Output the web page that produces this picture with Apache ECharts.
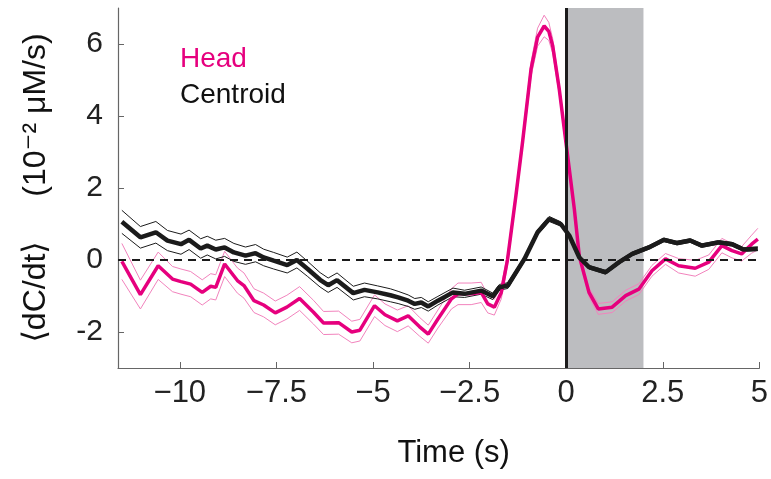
<!DOCTYPE html>
<html>
<head>
<meta charset="utf-8">
<script src="https://cdn.jsdelivr.net/npm/echarts@6/dist/echarts.min.js"></script>
<style>
  html, body { margin: 0; padding: 0; background: #fff; }
  #chart { width: 771px; height: 479px; }
</style>
</head>
<body>
<div id="chart"></div>
<script>
// head signal, time (s) / mean / sem
const headTime = [-11.5, -11.02, -10.56, -10.19, -9.97, -9.72, -9.42, -9.2, -9.07, -8.84, -8.51, -8.34, -8.08, -7.83, -7.53, -7.23, -6.9, -6.54, -6.28, -5.89, -5.55, -5.34, -4.96, -4.69, -4.37, -4.09, -3.8, -3.57, -3.32, -2.97, -2.8, -2.46, -2.2, -2.03, -1.86, -1.68, -1.52, -1.3, -1.13, -0.91, -0.74, -0.57, -0.45, -0.35, -0.18, -0.05, 0.08, 0.21, 0.34, 0.59, 0.83, 1.19, 1.54, 1.88, 2.22, 2.57, 2.91, 3.34, 3.69, 4.03, 4.29, 4.54, 4.8, 4.96];
const headMean = [-0.04, -0.96, -0.16, -0.53, -0.6, -0.67, -0.9, -0.73, -0.76, -0.11, -0.57, -0.71, -1.13, -1.25, -1.47, -1.31, -1.07, -1.45, -1.75, -1.74, -2.0, -1.95, -1.27, -1.52, -1.69, -1.55, -1.85, -2.06, -1.64, -1.08, -0.94, -0.94, -0.9, -1.22, -1.31, -0.9, 0.0, 1.8, 3.27, 5.3, 6.19, 6.5, 6.35, 5.95, 4.75, 3.64, 2.53, 1.42, 0.1, -0.9, -1.36, -1.31, -0.99, -0.81, -0.3, 0.03, -0.16, -0.23, -0.06, 0.4, 0.26, 0.17, 0.44, 0.58];
const headSem = [0.5, 0.4, 0.38, 0.35, 0.35, 0.35, 0.35, 0.35, 0.35, 0.35, 0.35, 0.35, 0.33, 0.33, 0.33, 0.33, 0.33, 0.33, 0.32, 0.32, 0.3, 0.3, 0.3, 0.3, 0.3, 0.28, 0.26, 0.25, 0.25, 0.28, 0.3, 0.3, 0.28, 0.25, 0.22, 0.18, 0.15, 0.12, 0.15, 0.2, 0.25, 0.3, 0.25, 0.2, 0.15, 0.12, 0.12, 0.12, 0.12, 0.12, 0.15, 0.15, 0.15, 0.15, 0.15, 0.15, 0.2, 0.22, 0.2, 0.2, 0.2, 0.2, 0.25, 0.3];

// centroid signal
const centTime = [-11.5, -11.02, -10.62, -10.32, -9.97, -9.76, -9.46, -9.29, -9.07, -8.84, -8.6, -8.3, -8.04, -7.83, -7.57, -7.22, -6.97, -6.69, -6.37, -6.16, -5.93, -5.51, -5.22, -4.88, -4.55, -4.35, -4.09, -3.92, -3.75, -3.57, -3.32, -2.93, -2.63, -2.2, -1.9, -1.73, -1.51, -1.08, -0.74, -0.44, -0.14, 0.08, 0.34, 0.59, 1.02, 1.37, 1.71, 2.14, 2.53, 2.87, 3.21, 3.51, 3.94, 4.29, 4.59, 4.96];
const centMean = [1.06, 0.63, 0.77, 0.54, 0.44, 0.56, 0.32, 0.4, 0.29, 0.35, 0.21, 0.12, 0.19, 0.07, -0.02, -0.14, 0.0, -0.25, -0.55, -0.7, -0.56, -0.92, -0.83, -0.9, -0.98, -1.04, -1.13, -1.22, -1.18, -1.29, -1.13, -0.9, -0.94, -0.85, -1.01, -0.76, -0.71, 0.03, 0.77, 1.14, 1.0, 0.68, 0.07, -0.2, -0.34, -0.06, 0.17, 0.35, 0.56, 0.47, 0.54, 0.4, 0.49, 0.44, 0.29, 0.31];
const centSem = [0.32, 0.3, 0.3, 0.28, 0.28, 0.27, 0.27, 0.26, 0.26, 0.25, 0.25, 0.24, 0.24, 0.23, 0.23, 0.22, 0.22, 0.21, 0.2, 0.2, 0.2, 0.19, 0.19, 0.18, 0.18, 0.17, 0.16, 0.15, 0.14, 0.13, 0.12, 0.12, 0.1, 0.1, 0.09, 0.08, 0.08, 0.07, 0.07, 0.07, 0.06, 0.05, 0.05, 0.05, 0.05, 0.05, 0.05, 0.05, 0.05, 0.05, 0.05, 0.05, 0.05, 0.05, 0.05, 0.05];

const xTicks = [-10, -7.5, -5, -2.5, 0, 2.5, 5];
const yTicks = [-2, 0, 2, 4, 6];
const stimWindow = [0, 2];

const MAGENTA = "#e6007e";
const PINK = "#f283bd";
const BLACK = "#1b1b1b";
const FONT = "Liberation Sans, Arial, DejaVu Sans, sans-serif";

const pairs = (t, v, sem, sign) =>
  t.map((x, i) => [x, +(v[i] + sign * (sem[i] || 0)).toFixed(3)]);

const thin = (name, data, color, z) => ({
  name: name,
  type: "line",
  data: data,
  symbol: "none",
  silent: true,
  z: z,
  lineStyle: { color: color, width: 1 }
});

const chart = echarts.init(document.getElementById("chart"));

const option = {
  animation: false,
  backgroundColor: "#fff",
  textStyle: { fontFamily: FONT },
  grid: { left: 118, right: 9, top: 8, bottom: 111 },
  legend: {
    left: 170,
    top: 40,
    orient: "vertical",
    itemWidth: 0,
    itemHeight: 28,
    itemGap: 8,
    selectedMode: false,
    data: [
      { name: "Head", icon: "none", textStyle: { color: MAGENTA } },
      { name: "Centroid", icon: "none", textStyle: { color: "#111" } }
    ],
    textStyle: { fontSize: 28, fontFamily: FONT }
  },
  xAxis: {
    type: "value",
    min: -11.6,
    max: 5,
    name: "Time (s)",
    nameLocation: "middle",
    nameGap: 70,
    nameTextStyle: { fontSize: 31, color: "#111", fontFamily: FONT, padding: [0, 0, 0, 30] },
    axisLine: { onZero: false, lineStyle: { color: "#666", width: 1.2 } },
    axisTick: { inside: true, length: 6, customValues: xTicks, lineStyle: { color: "#666" } },
    axisLabel: {
      customValues: xTicks,
      margin: 10,
      fontSize: 31,
      color: "#222",
      fontFamily: FONT,
      formatter: v => String(v).replace("-", "\u2212")
    },
    splitLine: { show: false }
  },
  yAxis: {
    type: "value",
    min: -3,
    max: 7,
    name: "\u27e8dC/dt\u27e9     (10\u207b\u00b2 \u03bcM/s)",
    nameLocation: "middle",
    nameRotate: 90,
    nameGap: 66,
    nameTextStyle: { fontSize: 32, color: "#111", fontFamily: FONT },
    axisLine: { onZero: false, lineStyle: { color: "#666", width: 1.2 } },
    axisTick: { inside: true, length: 6, customValues: yTicks, lineStyle: { color: "#666" } },
    axisLabel: {
      customValues: yTicks,
      margin: 15,
      fontSize: 30,
      color: "#222",
      fontFamily: FONT
    },
    splitLine: { show: false }
  },
  series: [
    {
      // stimulus window + reference lines
      name: "marks",
      type: "line",
      data: [],
      silent: true,
      z: 1,
      markArea: {
        silent: true,
        itemStyle: { color: "#bcbdc0" },
        data: [[{ xAxis: stimWindow[0] }, { xAxis: stimWindow[1] }]]
      },
      markLine: {
        silent: true,
        symbol: "none",
        label: { show: false },
        data: [
          { xAxis: 0, lineStyle: { color: BLACK, width: 3, type: "solid" } },
          { yAxis: 0, lineStyle: { color: BLACK, width: 2, type: [8, 6] } }
        ]
      }
    },
    thin("Head upper", pairs(headTime, headMean, headSem, 1), PINK, 3),
    thin("Head lower", pairs(headTime, headMean, headSem, -1), PINK, 3),
    thin("Centroid upper", pairs(centTime, centMean, centSem, 1), BLACK, 3),
    thin("Centroid lower", pairs(centTime, centMean, centSem, -1), BLACK, 3),
    {
      name: "Head",
      type: "line",
      data: headTime.map((t, i) => [t, headMean[i]]),
      symbol: "none",
      z: 4,
      itemStyle: { color: MAGENTA },
      lineStyle: { color: MAGENTA, width: 3.5 }
    },
    {
      name: "Centroid",
      type: "line",
      data: centTime.map((t, i) => [t, centMean[i]]),
      symbol: "none",
      z: 5,
      itemStyle: { color: BLACK },
      lineStyle: { color: BLACK, width: 4.5 }
    }
  ]
};

chart.setOption(option);
</script>
</body>
</html>
